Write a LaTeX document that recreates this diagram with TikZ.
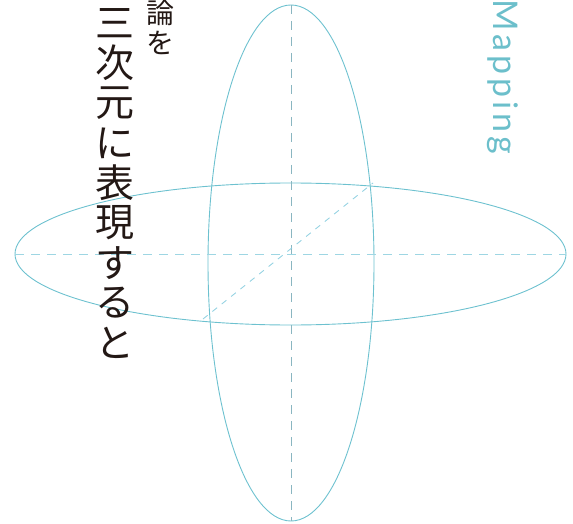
\documentclass[tikz,border=0pt]{standalone}
\usepackage{fontspec}
\newfontfamily\jpfont{Noto Sans CJK JP}
\newfontfamily\mapfont[LetterSpace=12]{Lato}
\definecolor{ellcol}{HTML}{6DC1CF}
\definecolor{vdash}{HTML}{8AB6C1}
\definecolor{hdash}{HTML}{9ED6E3}
\definecolor{ddash}{HTML}{8ECFE0}
\definecolor{mapcol}{HTML}{6CBFCB}
\definecolor{inkcol}{HTML}{231815}
\tikzset{
  ell/.style={draw=ellcol, line width=0.9pt},
  vaxis/.style={draw=vdash, line width=0.9pt, dash pattern=on 9pt off 7pt},
  haxis/.style={draw=hdash, line width=1pt, dash pattern=on 9pt off 7pt},
  daxis/.style={draw=ddash, line width=0.8pt, dash pattern=on 6pt off 6pt},
  bigjp/.style={font=\jpfont\fontsize{39}{39}\selectfont, text=inkcol, inner sep=0pt},
  smalljp/.style={font=\jpfont\fontsize{28}{28}\selectfont, text=inkcol, inner sep=0pt},
  maptext/.style={font=\mapfont\fontsize{34}{34}\selectfont, text=mapcol, inner sep=0pt}
}
\begin{document}
\begin{tikzpicture}[x=1pt,y=-1pt]
\useasboundingbox (0,0) rectangle (573,524);
% ellipses
\draw[ell] (291,263) ellipse [x radius=83, y radius=258];
\draw[ell] (290.5,254) ellipse [x radius=275.5, y radius=71];
\coordinate (hl) at (15,254);
\coordinate (hr) at (566,254);
\coordinate (vt) at (291,5);
\coordinate (vb) at (291,521);
\coordinate (dl) at (203,319);
\coordinate (dr) at (373,183);
\draw[vaxis] (vt) -- (vb);
\draw[haxis] (hl) -- (hr);
\draw[daxis] (dl) -- (dr);
% vertical Japanese text
\foreach \c [count=\i] in {三,次,元,に,表,現,す,る,と}
  \node[bigjp] (c\i) at (115,{23+40*(\i-1)}) {\c};
\node[smalljp] (r1) at (160,13) {論};
\node[smalljp] (r2) at (160,43) {を};
\node[maptext, rotate=-90, anchor=base west] (map) at (493,-1) {Mapping};
\end{tikzpicture}
\end{document}
